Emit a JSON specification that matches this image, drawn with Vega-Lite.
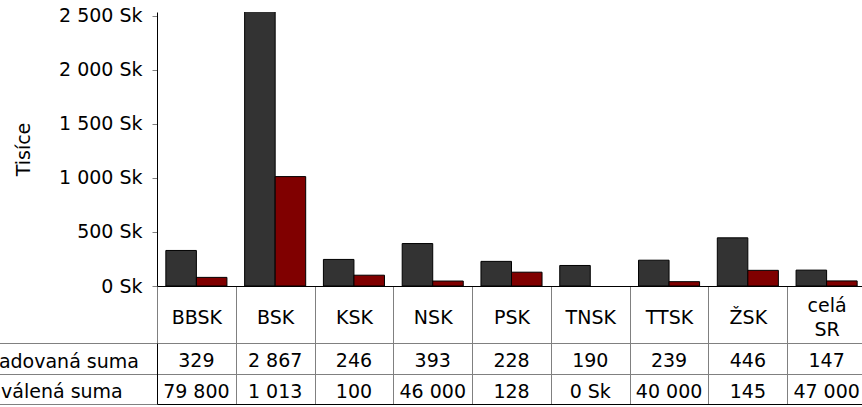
{
  "$schema": "https://vega.github.io/schema/vega-lite/v6.json",
  "padding": {"left": -35, "top": 6, "right": -3, "bottom": 3},
  "spacing": 57,
  "bounds": "flush",
  "config": {
    "view": {"stroke": null},
    "font": "DejaVu Sans",
    "locale": {"number": {"decimal": ",", "thousands": " ", "grouping": [3], "currency": ["", " Sk"]}},
    "axis": {"labelFont": "DejaVu Sans", "labelFontSize": 19, "labelColor": "#000", "titleFont": "DejaVu Sans", "titleFontSize": 19, "titleFontWeight": "normal", "titleColor": "#000", "grid": false}
  },
  "datasets": {
    "rows": [
      {"kraj": "BBSK", "seria": "Požadovaná suma", "hodnota": 329, "text": "329"},
      {"kraj": "BBSK", "seria": "Schválená suma", "hodnota": 79.8, "text": "79 800"},
      {"kraj": "BSK", "seria": "Požadovaná suma", "hodnota": 2867, "text": "2 867"},
      {"kraj": "BSK", "seria": "Schválená suma", "hodnota": 1013, "text": "1 013"},
      {"kraj": "KSK", "seria": "Požadovaná suma", "hodnota": 246, "text": "246"},
      {"kraj": "KSK", "seria": "Schválená suma", "hodnota": 100, "text": "100"},
      {"kraj": "NSK", "seria": "Požadovaná suma", "hodnota": 393, "text": "393"},
      {"kraj": "NSK", "seria": "Schválená suma", "hodnota": 46, "text": "46 000"},
      {"kraj": "PSK", "seria": "Požadovaná suma", "hodnota": 228, "text": "228"},
      {"kraj": "PSK", "seria": "Schválená suma", "hodnota": 128, "text": "128"},
      {"kraj": "TNSK", "seria": "Požadovaná suma", "hodnota": 190, "text": "190"},
      {"kraj": "TNSK", "seria": "Schválená suma", "hodnota": 0, "text": "0 Sk"},
      {"kraj": "TTSK", "seria": "Požadovaná suma", "hodnota": 239, "text": "239"},
      {"kraj": "TTSK", "seria": "Schválená suma", "hodnota": 40, "text": "40 000"},
      {"kraj": "ŽSK", "seria": "Požadovaná suma", "hodnota": 446, "text": "446"},
      {"kraj": "ŽSK", "seria": "Schválená suma", "hodnota": 145, "text": "145"},
      {"kraj": "celá SR", "seria": "Požadovaná suma", "hodnota": 147, "text": "147"},
      {"kraj": "celá SR", "seria": "Schválená suma", "hodnota": 47, "text": "47 000"}
    ]
  },
  "vconcat": [
    {
      "width": 709,
      "height": 274,
      "data": {"name": "rows"},
      "mark": {"type": "bar", "stroke": "#000", "clip": true},
      "encoding": {
        "x": {
          "field": "kraj", "type": "nominal", "sort": null,
          "scale": {"paddingInner": 0, "paddingOuter": 0},
          "axis": {
            "title": null, "labelAngle": 0, "tickBand": "extent", "tickSize": 57, "tickColor": "#808080", "domainColor": "#000",
            "labelPadding": {"condition": {"test": "isString(datum.value) && indexof(datum.value, ' ') >= 0", "value": -38}, "value": -26},
            "labelBaseline": "middle",
            "labelExpr": "isString(datum.value) ? split(datum.value, ' ') : ''",
            "labelLineHeight": 24
          }
        },
        "xOffset": {"field": "seria", "type": "nominal", "sort": null, "scale": {"paddingInner": 0, "paddingOuter": 0.29}},
        "y": {
          "field": "hodnota", "type": "quantitative",
          "scale": {"domain": [0, 2537], "nice": false},
          "axis": {"title": "Tisíce", "values": [0, 500, 1000, 1500, 2000, 2500], "format": "$,d", "tickSize": 5, "labelPadding": 10, "tickColor": "#808080", "domainColor": "#000", "titlePadding": 25}
        },
        "color": {"field": "seria", "type": "nominal", "sort": null, "scale": {"range": ["#333333", "#800000"]}, "legend": null},
        "strokeWidth": {"condition": {"test": "datum.hodnota == 0", "value": 0}, "value": 1}
      }
    },
    {
      "width": 709,
      "height": 61,
      "data": {"name": "rows"},
      "mark": {"type": "text", "fontSize": 19, "dy": 3, "baseline": "middle", "color": "#000", "font": "DejaVu Sans"},
      "encoding": {
        "x": {
          "field": "kraj", "type": "nominal", "sort": null,
          "scale": {"paddingInner": 0, "paddingOuter": 0},
          "axis": {"title": null, "labels": false, "ticks": false, "domain": true, "domainColor": "#000", "grid": true, "gridColor": "#808080", "gridOpacity": 1, "tickBand": "extent", "orient": "bottom"}
        },
        "y": {
          "field": "seria", "type": "nominal", "sort": null,
          "scale": {"paddingInner": 0, "paddingOuter": 0},
          "axis": {"title": null, "grid": true, "gridColor": "#808080", "gridOpacity": 1, "tickBand": "extent", "tickSize": 191, "tickColor": "#808080", "labelPadding": 0, "labelAlign": "left", "labelBaseline": "middle", "labelOffset": 3, "domainColor": "#000"}
        },
        "text": {"field": "text", "type": "nominal"}
      }
    }
  ]
}
